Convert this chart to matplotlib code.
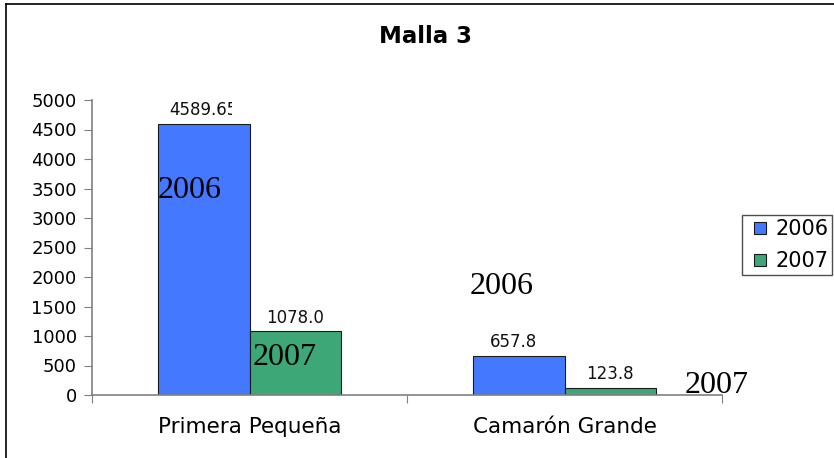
import numpy as np
import matplotlib
matplotlib.use("Agg")
import matplotlib.pyplot as plt
from matplotlib.lines import Line2D
from matplotlib.transforms import Bbox, TransformedBbox

# data
categories = ["Primera Pequeña", "Camarón Grande"]
years = ["2006", "2007"]
values_2006 = [4589.65, 657.85]
values_2007 = [1078.0, 123.8]
labels_2006 = ["4589.65", "657.85"]
labels_2007 = ["1078.0", "123.8"]
y_ticks = [0, 500, 1000, 1500, 2000, 2500, 3000, 3500, 4000, 4500, 5000]

blue = "#4479FF"
green = "#3DA778"
W, H = 834, 458

fig = plt.figure(figsize=(W / 100, H / 100), dpi=100)
ax = fig.add_axes([92 / W, 1 - 395 / H, 630 / W, 295 / H])

x = np.arange(len(categories))
bw = 0.29
b1 = ax.bar(x - bw / 2, values_2006, bw, color=blue, edgecolor="#1a1a1a", linewidth=0.8)
b2 = ax.bar(x + bw / 2, values_2007, bw, color=green, edgecolor="#1a1a1a", linewidth=0.8)

ax.set_xlim(-0.5, 1.5)
ax.set_ylim(0, 5000)
ax.set_yticks(y_ticks)
ax.set_yticklabels([str(v) for v in y_ticks], fontsize=13)

# boundaries get the tick marks, categories get the labels
ax.set_xticks([-0.5, 0.5, 1.5])
ax.set_xticklabels([])
ax.set_xticks(x, minor=True)
ax.set_xticklabels(categories, minor=True, fontsize=15.5)
ax.tick_params(axis="x", which="minor", length=0, pad=16)
ax.tick_params(axis="x", which="major", length=6, color="#808080", direction="out")
ax.tick_params(axis="y", length=6, color="#808080", direction="out", pad=5)

for s in ["top", "right"]:
    ax.spines[s].set_visible(False)
for s in ["left", "bottom"]:
    ax.spines[s].set_color("#808080")
    ax.spines[s].set_linewidth(1.2)

# value labels, cut off on the right like the original boxes
clip_2006 = [0.089, 0.057]
clip_2007 = [0.2, 0.2]
for bars, labs, cr in [(b1, labels_2006, clip_2006), (b2, labels_2007, clip_2007)]:
    for i, (rect, lab) in enumerate(zip(bars, labs)):
        cx = rect.get_x() + rect.get_width() / 2
        top = rect.get_height()
        t = ax.text(cx, top + 150, lab, ha="center", va="baseline", fontsize=12,
                    family="DejaVu Sans", color="#111111")
        box = TransformedBbox(Bbox([[cx - 0.2, 0], [cx + cr[i], 5600]]), ax.transData)
        t.set_clip_box(box)
        t.set_clip_on(True)

# stray year labels placed over the chart
serif_pos = [(158, 198, "2006"), (253, 365, "2007"), (470, 294, "2006"), (685, 393, "2007")]
for px, py, s in serif_pos:
    fig.text(px / W, 1 - py / H, s, ha="left", va="baseline", fontsize=23,
             family="Liberation Serif", color="black")

fig.text(425 / W, 1 - 43 / H, "Malla 3", ha="center", va="baseline", fontsize=16.5,
         fontweight="bold", family="DejaVu Sans")

handles = [Line2D([], [], linestyle="none", marker="s", markersize=9,
                  markerfacecolor=c, markeredgecolor="#1a1a1a", markeredgewidth=0.8)
           for c in (blue, green)]
leg = ax.legend(handles, years, loc="upper left", bbox_to_anchor=(742 / W, 1 - 215 / H),
                bbox_transform=fig.transFigure, fontsize=15, frameon=True,
                fancybox=False, handlelength=1.3, handletextpad=0.1,
                borderpad=0.19, labelspacing=0.58, borderaxespad=0)
leg.get_frame().set_edgecolor("#222222")
leg.get_frame().set_linewidth(1.0)

# outer chart border (cropped on right and bottom)
fig.add_artist(Line2D([6 / W, 6 / W], [0, 1 - 4 / H], color="black", lw=1.2, transform=fig.transFigure))
fig.add_artist(Line2D([6 / W, 1], [1 - 4 / H, 1 - 4 / H], color="black", lw=1.2, transform=fig.transFigure))

fig.savefig("out.png", dpi=100)
